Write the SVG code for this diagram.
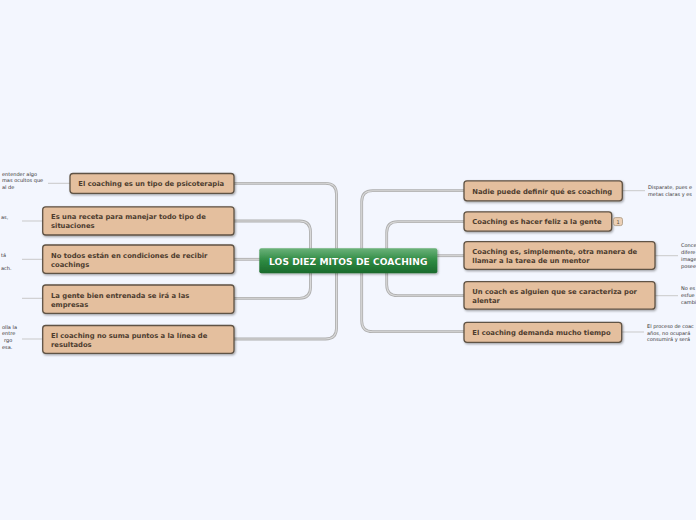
<svg xmlns="http://www.w3.org/2000/svg" width="696" height="520" viewBox="0 0 696 520">
<defs>
<linearGradient id="cg" x1="0" y1="0" x2="0" y2="1">
<stop offset="0" stop-color="#6bb27a"/>
<stop offset="0.5" stop-color="#2e8a42"/>
<stop offset="1" stop-color="#1b6a2c"/>
</linearGradient>
<filter id="sh" x="-10%" y="-30%" width="120%" height="170%">
<feDropShadow dx="1" dy="1.2" stdDeviation="0.8" flood-color="#000" flood-opacity="0.35"/>
</filter>
</defs>
<style>
.bg{fill:#f3f6fe}
.node{fill:#e4bf9e;stroke:#5f5244;stroke-width:1.3;filter:url(#sh)}
.nt{font-family:"DejaVu Sans",Verdana,sans-serif;font-weight:bold;font-size:6.8px;fill:#4d3c2e}
.ct{font-family:"DejaVu Sans",Verdana,sans-serif;font-weight:bold;font-size:9.2px;fill:#ffffff}
.cts{font-family:"DejaVu Sans",Verdana,sans-serif;font-weight:bold;font-size:9.2px;fill:#0d3d17;opacity:0.7}
.note{font-family:"DejaVu Sans",Verdana,sans-serif;font-size:5px;fill:#333333}
.c1{fill:none;stroke:#aeaeae;stroke-width:2.8}
.c2{fill:none;stroke:#d9d9d9;stroke-width:1.1}
.nl{fill:none;stroke:#c9c9c9;stroke-width:1}
.badge{fill:#ecd0b6;stroke:#a8977f;stroke-width:0.8}
.bt{font-family:"DejaVu Sans",sans-serif;font-size:5px;fill:#5a4a3a}
</style>
<rect class="bg" x="0" y="0" width="696" height="520"/>

<g id="connectors">
<path class="c1" d="M234,183.3 H325.5 Q336.5,183.3 336.5,194.3 V328 Q336.5,339 325.5,339 H234"/>
<path class="c1" d="M234,221 H299.5 Q310.5,221 310.5,232 V287.3 Q310.5,298.3 299.5,298.3 H234"/>
<path class="c1" d="M234,259.3 H260"/>
<path class="c1" d="M464,190.7 H372.7 Q361.7,190.7 361.7,201.7 V320.7 Q361.7,331.7 372.7,331.7 H464"/>
<path class="c1" d="M464,221.7 H397.7 Q386.7,221.7 386.7,232.7 V284.7 Q386.7,295.7 397.7,295.7 H464"/>
<path class="c1" d="M436,255.7 H464"/>
<path class="c2" d="M234,183.3 H325.5 Q336.5,183.3 336.5,194.3 V328 Q336.5,339 325.5,339 H234"/>
<path class="c2" d="M234,221 H299.5 Q310.5,221 310.5,232 V287.3 Q310.5,298.3 299.5,298.3 H234"/>
<path class="c2" d="M234,259.3 H260"/>
<path class="c2" d="M464,190.7 H372.7 Q361.7,190.7 361.7,201.7 V320.7 Q361.7,331.7 372.7,331.7 H464"/>
<path class="c2" d="M464,221.7 H397.7 Q386.7,221.7 386.7,232.7 V284.7 Q386.7,295.7 397.7,295.7 H464"/>
<path class="c2" d="M436,255.7 H464"/>
<path class="nl" d="M48,183.3 H70"/>
<path class="nl" d="M22,221 H43"/>
<path class="nl" d="M22,259.3 H43"/>
<path class="nl" d="M22,298.3 H43"/>
<path class="nl" d="M22,339 H43"/>
<path class="nl" d="M622,190.7 H645"/>
<path class="nl" d="M655,255.7 H678"/>
<path class="nl" d="M655,295.7 H678"/>
<path class="nl" d="M621.7,332 H644"/>
</g>

<g id="center">
<rect x="259.3" y="248.3" width="178" height="25" rx="2" fill="url(#cg)" filter="url(#sh)"/>
<text class="cts" x="348.8" y="265.2" text-anchor="middle">LOS DIEZ MITOS DE COACHING</text>
<text class="ct" x="348.3" y="264.6" text-anchor="middle">LOS DIEZ MITOS DE COACHING</text>
</g>

<g id="l1">
<rect class="node" x="70" y="173.5" width="164" height="19.8" rx="3"/>
<text class="nt" x="78.3" y="186">El coaching es un tipo de psicoterapia</text>
</g>
<g id="l2">
<rect class="node" x="42.7" y="206.8" width="191.3" height="28.2" rx="3"/>
<text class="nt" x="51" y="218.8">Es una receta para manejar todo tipo de</text>
<text class="nt" x="51" y="228">situaciones</text>
</g>
<g id="l3">
<rect class="node" x="42.7" y="245" width="191.3" height="28.3" rx="3"/>
<text class="nt" x="51" y="257.5">No todos están en condiciones de recibir</text>
<text class="nt" x="51" y="266.5">coachings</text>
</g>
<g id="l4">
<rect class="node" x="42.7" y="285" width="191.3" height="28.3" rx="3"/>
<text class="nt" x="51" y="297.5">La gente bien entrenada se irá a las</text>
<text class="nt" x="51" y="306.5">empresas</text>
</g>
<g id="l5">
<rect class="node" x="42.7" y="325.5" width="191.3" height="27.8" rx="3"/>
<text class="nt" x="51" y="337.8">El coaching no suma puntos a la línea de</text>
<text class="nt" x="51" y="346.8">resultados</text>
</g>

<g id="r1">
<rect class="node" x="464" y="180.8" width="158.3" height="20" rx="3"/>
<text class="nt" x="472.3" y="193.5">Nadie puede definir qué es coaching</text>
</g>
<g id="r2">
<rect class="node" x="464" y="211.8" width="147.7" height="19.3" rx="3"/>
<text class="nt" x="472.3" y="224.2">Coaching es hacer feliz a la gente</text>
<rect class="badge" x="613.5" y="217.6" width="9" height="8" rx="2"/>
<text class="bt" x="618" y="223.5" text-anchor="middle">1</text>
</g>
<g id="r3">
<rect class="node" x="464" y="241.7" width="191" height="27.6" rx="3"/>
<text class="nt" x="472.3" y="253.8">Coaching es, simplemente, otra manera de</text>
<text class="nt" x="472.3" y="263">llamar a la tarea de un mentor</text>
</g>
<g id="r4">
<rect class="node" x="464" y="281.7" width="191" height="27.5" rx="3"/>
<text class="nt" x="472.3" y="293.8">Un coach es alguien que se caracteriza por</text>
<text class="nt" x="472.3" y="303">alentar</text>
</g>
<g id="r5">
<rect class="node" x="464" y="322.3" width="157.7" height="20" rx="3"/>
<text class="nt" x="472.3" y="334.8">El coaching demanda mucho tiempo</text>
</g>

<g id="notes">
<text class="note" x="2" y="175.5">entender algo</text>
<text class="note" x="2" y="182">mas ocultos que</text>
<text class="note" x="2" y="188.5">al de</text>
<text class="note" x="1" y="219.3">as,</text>
<text class="note" x="1" y="256.5">tá</text>
<text class="note" x="1" y="270">ach.</text>
<text class="note" x="2" y="328.8">olla la</text>
<text class="note" x="2" y="335.3">entre</text>
<text class="note" x="4" y="341.8">rgo</text>
<text class="note" x="2" y="348.5">esa.</text>
<text class="note" x="648" y="188.8">Disparate, pues e</text>
<text class="note" x="648" y="195.5">metas claras y es</text>
<text class="note" x="681" y="246.8">Conce</text>
<text class="note" x="681" y="254">difere</text>
<text class="note" x="681" y="261.2">image</text>
<text class="note" x="681" y="268.4">posee</text>
<text class="note" x="681" y="289.5">No es</text>
<text class="note" x="681" y="296.5">esfue</text>
<text class="note" x="681" y="303.5">cambi</text>
<text class="note" x="647" y="327.8">El proceso de coac</text>
<text class="note" x="647" y="334.6">años, no ocupará</text>
<text class="note" x="647" y="341.4">consumirá y será</text>
</g>
</svg>
